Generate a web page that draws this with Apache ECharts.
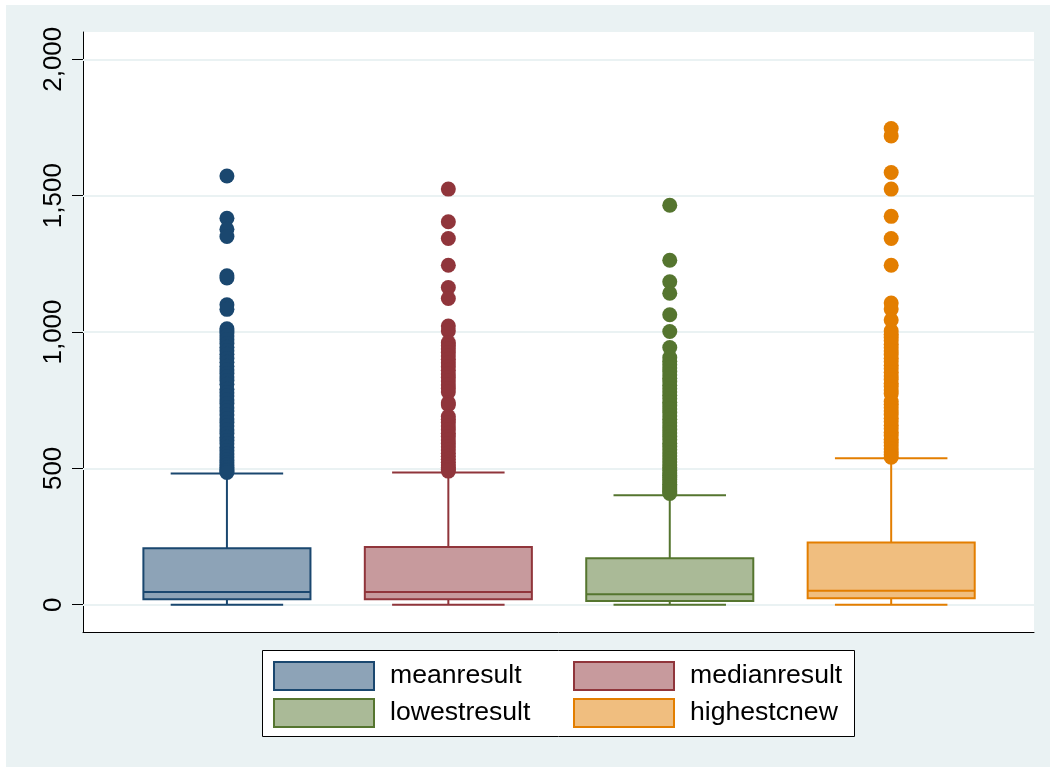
<!DOCTYPE html>
<html>
<head>
<meta charset="utf-8">
<script src="https://cdn.jsdelivr.net/npm/echarts@6/dist/echarts.min.js"></script>
<style>
html,body{margin:0;padding:0;background:#fff;}
#chart{width:1052px;height:772px;}
</style>
</head>
<body>
<div id="chart"></div>
<script>
// ---- data ----
const categories = ['meanresult', 'medianresult', 'lowestresult', 'highestcnew'];
const lowWhisker = [0, 0, 0, 0];
const q1 = [20, 20, 14, 24];
const medians = [47, 47, 38, 51];
const q3 = [207, 212, 170, 228];
const highWhisker = [481, 485, 401, 537];

const outliersMean = [1572, 1417, 1377, 1350, 1206, 1198, 1100, 1083, 1012, 1004, 996, 985, 972, 958, 944, 931, 918, 903, 889, 874, 861, 848, 835, 822, 808, 790, 777, 765, 751, 738, 722, 710, 696, 681, 668, 655, 641, 628, 614, 602, 590, 577, 565, 553, 542, 531, 521, 512, 503, 496, 490, 485];
const outliersMedian = [1524, 1404, 1343, 1245, 1163, 1123, 1022, 1004, 961, 950, 938, 925, 912, 900, 887, 873, 860, 846, 833, 820, 806, 793, 780, 740, 733, 690, 680, 668, 655, 642, 629, 617, 604, 591, 579, 567, 555, 544, 533, 522, 512, 503, 496, 490];
const outliersLowest = [1465, 1263, 1184, 1142, 1063, 1002, 943, 906, 893, 880, 868, 855, 842, 830, 818, 805, 792, 780, 768, 755, 742, 730, 718, 705, 692, 680, 667, 655, 642, 630, 617, 605, 592, 580, 568, 556, 545, 534, 523, 512, 502, 492, 483, 474, 466, 458, 450, 442, 435, 428, 421, 414, 408];
const outliersHighest = [1746, 1719, 1585, 1524, 1424, 1343, 1245, 1106, 1084, 1044, 1004, 992, 980, 968, 955, 942, 930, 917, 904, 891, 878, 865, 852, 839, 826, 812, 800, 787, 774, 745, 735, 722, 710, 697, 684, 671, 658, 645, 632, 620, 607, 595, 583, 571, 560, 550, 541];
const outlierLists = [outliersMean, outliersMedian, outliersLowest, outliersHighest];

const yTicks = [0, 500, 1000, 1500, 2000];

// ---- styles ----
const lineColors = ['#1A476F', '#90353B', '#55752F', '#E37E00'];
const fillColors = ['#8DA3B7', '#C79A9D', '#AABA97', '#F0BE7F'];
const BOX_W = 0.7545;
const CAP_W = 0.508;
const FONT = '"Liberation Sans", Arial, Helvetica, sans-serif';

function makeRender(idx) {
  return function (params, api) {
    const x = api.value(0);
    const pLow = api.coord([x, api.value(1)]);
    const pQ1 = api.coord([x, api.value(2)]);
    const pMed = api.coord([x, api.value(3)]);
    const pQ3 = api.coord([x, api.value(4)]);
    const pHigh = api.coord([x, api.value(5)]);
    const bw = api.size([BOX_W, 0])[0];
    const cw = api.size([CAP_W, 0])[0];
    const cx = pMed[0];
    const stroke = lineColors[idx];
    const ls = () => ({ stroke: stroke, lineWidth: 2, fill: null });
    return {
      type: 'group',
      children: [
        { type: 'line', shape: { x1: cx, y1: pHigh[1], x2: cx, y2: pQ3[1] }, style: ls() },
        { type: 'line', shape: { x1: cx, y1: pQ1[1], x2: cx, y2: pLow[1] }, style: ls() },
        { type: 'line', shape: { x1: cx - cw / 2, y1: pHigh[1], x2: cx + cw / 2, y2: pHigh[1] }, style: ls() },
        { type: 'line', shape: { x1: cx - cw / 2, y1: pLow[1], x2: cx + cw / 2, y2: pLow[1] }, style: ls() },
        { type: 'rect', shape: { x: cx - bw / 2, y: pQ3[1], width: bw, height: pQ1[1] - pQ3[1] },
          style: { fill: fillColors[idx], stroke: stroke, lineWidth: 2 } },
        { type: 'line', shape: { x1: cx - bw / 2, y1: pMed[1], x2: cx + bw / 2, y2: pMed[1] }, style: ls() }
      ]
    };
  };
}

const series = [];
// gridlines host
series.push({
  type: 'line', data: [], z: 1, silent: true,
  markLine: {
    z: 1, silent: true, symbol: 'none', animation: false,
    label: { show: false },
    lineStyle: { color: '#EAF2F3', width: 2, type: 'solid' },
    data: yTicks.map(v => ({ yAxis: v }))
  }
});
categories.forEach((name, i) => {
  series.push({
    name: name, type: 'custom', z: 3,
    renderItem: makeRender(i),
    data: [[i + 1, lowWhisker[i], q1[i], medians[i], q3[i], highWhisker[i]]],
    encode: { x: 0, y: [1, 2, 3, 4, 5] }
  });
});
categories.forEach((name, i) => {
  series.push({
    name: name, type: 'scatter', z: 4,
    symbol: 'circle', symbolSize: 15,
    itemStyle: { color: lineColors[i], opacity: 1 },
    data: outlierLists[i].map(v => [i + 1, v])
  });
});

const legendPos = [[273, 661], [573, 661], [273, 698], [573, 698]];
const legends = categories.map((name, i) => ({
  left: legendPos[i][0], top: legendPos[i][1], padding: 0,
  itemWidth: 100, itemHeight: 28, selectedMode: false, z: 5,
  textStyle: { fontFamily: FONT, fontSize: 26.6, color: '#000', padding: [0, 0, 0, 11] },
  data: [{ name: name, icon: 'rect',
    itemStyle: { color: fillColors[i], borderColor: lineColors[i], borderWidth: 2 } }]
}));

const option = {
  animation: false,
  backgroundColor: '#ffffff',
  graphic: [
    { type: 'rect', z: -100, shape: { x: 6, y: 5, width: 1044, height: 762 },
      style: { fill: '#EAF2F3' } },
    { type: 'rect', z: 1, shape: { x: 262.5, y: 650.5, width: 592, height: 86 },
      style: { fill: '#ffffff', stroke: '#000', lineWidth: 1 } }
  ],
  legend: legends,
  grid: {
    left: 83, right: 18, top: 32, bottom: 140,
    show: true, backgroundColor: '#ffffff', borderWidth: 0
  },
  xAxis: {
    type: 'value', min: 0.35, max: 4.645, position: 'bottom',
    axisLine: { show: true, onZero: false, lineStyle: { color: '#000', width: 1 } },
    axisTick: { show: false }, axisLabel: { show: false }, splitLine: { show: false }
  },
  yAxis: {
    type: 'value', min: -100, max: 2100,
    axisLine: { show: true, lineStyle: { color: '#000', width: 1 } },
    axisTick: { show: true, length: 11, customValues: yTicks, lineStyle: { color: '#000', width: 1 } },
    axisLabel: {
      customValues: yTicks, rotate: 90, margin: 16,
      fontFamily: FONT, fontSize: 26, color: '#000',
      formatter: v => Number(v).toLocaleString('en-US')
    },
    splitLine: { show: false }
  },
  series: series
};

const chart = echarts.init(document.getElementById('chart'), null, { renderer: 'canvas' });
chart.setOption(option);
</script>
</body>
</html>
